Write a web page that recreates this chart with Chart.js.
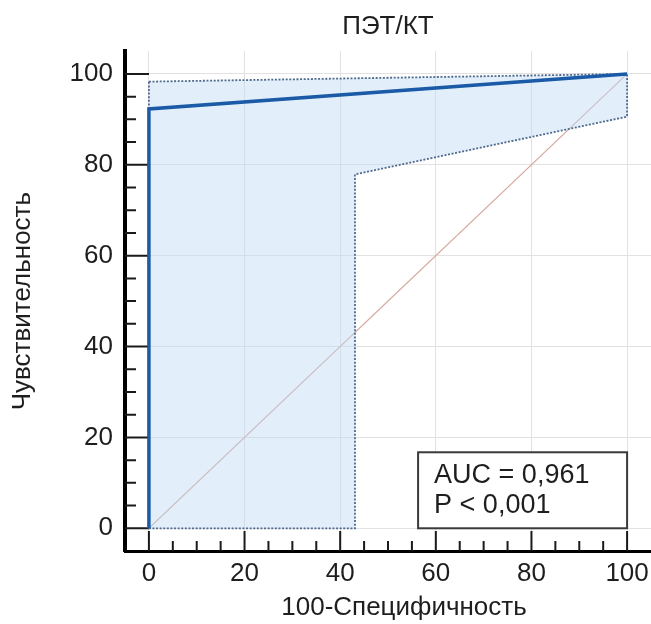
<!DOCTYPE html>
<html>
<head>
<meta charset="utf-8">
<script src="https://cdn.jsdelivr.net/npm/chart.js@4/dist/chart.umd.min.js"></script>
<style>
  html, body { margin: 0; padding: 0; background: #fff; overflow: hidden; }
  #wrap { width: 651px; height: 624px; }
</style>
</head>
<body>
<div id="wrap"><canvas id="roc" width="651" height="624"></canvas></div>
<script>
// Labels
const chartTitle = 'ПЭТ/КТ';
const xAxisTitle = '100-Специфичность';
const yAxisTitle = 'Чувствительность';
const statsLines = ['AUC = 0,961', 'P < 0,001'];

// Axis ticks (labelled every 20, small marks every 5)
const majorTicks = [0, 20, 40, 60, 80, 100];
const minorStep = 5;

// ROC curve
const rocX = [0, 0, 100];
const rocY = [0, 92.3, 100];

// 95% confidence band: upper and lower bounds
const ciUpperX = [0, 100];
const ciUpperY = [98.3, 100];
const ciLowerX = [0, 43.1, 43.1, 100];
const ciLowerY = [0, 0, 77.9, 90.6];

// Reference (chance) diagonal
const refX = [0, 100];
const refY = [0, 100];

const FONT = '"Liberation Sans", Arial, sans-serif';
const TEXT = '#1e1e1e';

const toPts = (xs, ys) => xs.map((x, i) => ({ x, y: ys[i] }));
const bandPts = toPts(ciUpperX, ciUpperY).concat(toPts(ciLowerX, ciLowerY).reverse());
bandPts.push(bandPts[0]);

const isMajor = v => majorTicks.includes(v);

// Inward tick marks, the x-axis title and the AUC box
const decorations = {
  id: 'decorations',
  beforeDatasetsDraw(chart) {
    const { ctx, scales: { x, y }, chartArea: a } = chart;
    ctx.save();
    ctx.strokeStyle = '#1a1a1a';
    ctx.lineWidth = 2;
    ctx.beginPath();
    for (let v = 0; v <= 100; v += minorStep) {
      const len = isMajor(v) ? 20 : 10;
      const px = x.getPixelForValue(v);
      ctx.moveTo(px, a.bottom);
      ctx.lineTo(px, a.bottom - len);
      const py = y.getPixelForValue(v);
      const lenY = isMajor(v) ? 24 : 11;
      ctx.moveTo(a.left, py);
      ctx.lineTo(a.left + lenY, py);
    }
    ctx.stroke();
    ctx.restore();
  },
  afterDraw(chart) {
    const { ctx, scales: { x, y }, chartArea: a } = chart;
    ctx.save();
    // x-axis title
    ctx.fillStyle = TEXT;
    ctx.font = '26px ' + FONT;
    ctx.textAlign = 'center';
    ctx.textBaseline = 'alphabetic';
    ctx.fillText(xAxisTitle, (a.left + a.right) / 2 + 16, chart.height - 9);

    // statistics box anchored at (100, 0)
    const right = x.getPixelForValue(100);
    const bottom = y.getPixelForValue(0);
    const w = 209, h = 76;
    ctx.fillStyle = '#ffffff';
    ctx.fillRect(right - w, bottom - h, w, h);
    ctx.strokeStyle = '#3a3a3a';
    ctx.lineWidth = 2;
    ctx.strokeRect(right - w, bottom - h, w, h);
    ctx.fillStyle = TEXT;
    ctx.font = '27px ' + FONT;
    ctx.textAlign = 'left';
    ctx.textBaseline = 'alphabetic';
    ctx.fillText(statsLines[0], right - w + 16, bottom - 45);
    ctx.fillText(statsLines[1], right - w + 16, bottom - 15);
    ctx.restore();
  }
};

const gridColor = ctx => (ctx.tick && isMajor(ctx.tick.value)) ? '#e2e2e2' : 'rgba(0,0,0,0)';
const tickLabel = v => isMajor(v) ? String(v) : '';

new Chart(document.getElementById('roc'), {
  type: 'scatter',
  data: {
    datasets: [
      {
        label: 'ROC',
        data: toPts(rocX, rocY),
        showLine: true,
        borderColor: '#1b5aa6',
        borderWidth: 3.5,
        pointRadius: 0,
        fill: false,
        tension: 0
      },
      {
        label: '95% ДИ',
        data: bandPts,
        showLine: true,
        borderColor: '#4f6a8c',
        borderWidth: 1.8,
        borderDash: [2, 1.6],
        backgroundColor: 'rgba(190,220,246,0.45)',
        pointRadius: 0,
        fill: 'shape',
        tension: 0
      },
      {
        label: 'Диагональ',
        data: toPts(refX, refY),
        showLine: true,
        borderColor: 'rgb(214,168,158)',
        borderWidth: 1.2,
        pointRadius: 0,
        fill: false
      }
    ]
  },
  options: {
    responsive: false,
    animation: false,
    layout: { padding: { left: 0, right: 0, top: 0, bottom: 0 } },
    plugins: {
      legend: { display: false },
      tooltip: { enabled: false },
      title: {
        display: true,
        text: chartTitle,
        fullSize: false,
        color: TEXT,
        font: { family: FONT, size: 26, weight: 'normal' },
        padding: { top: 11, bottom: 9 }
      }
    },
    scales: {
      x: {
        type: 'linear',
        min: -5,
        max: 105,
        afterFit: s => { s.height = 73; s.paddingLeft = 0; s.paddingRight = 0; },
        ticks: {
          stepSize: minorStep,
          autoSkip: false,
          maxRotation: 0,
          padding: 7,
          color: TEXT,
          font: { family: FONT, size: 26 },
          callback: tickLabel
        },
        grid: { color: gridColor, lineWidth: 1, drawTicks: false },
        border: { display: true, color: '#000', width: 3 },
        title: { display: false }
      },
      y: {
        type: 'linear',
        min: -5,
        max: 105,
        afterFit: s => { s.width = 125; s.paddingTop = 0; s.paddingBottom = 0; },
        ticks: {
          stepSize: minorStep,
          autoSkip: false,
          padding: 12,
          color: TEXT,
          font: { family: FONT, size: 26 },
          callback: tickLabel
        },
        grid: { color: gridColor, lineWidth: 1, drawTicks: false },
        border: { display: true, color: '#000', width: 4 },
        title: {
          display: true,
          text: yAxisTitle,
          color: TEXT,
          font: { family: FONT, size: 26 },
          padding: { top: 7, bottom: 0 }
        }
      }
    }
  },
  plugins: [decorations]
});
</script>
</body>
</html>
